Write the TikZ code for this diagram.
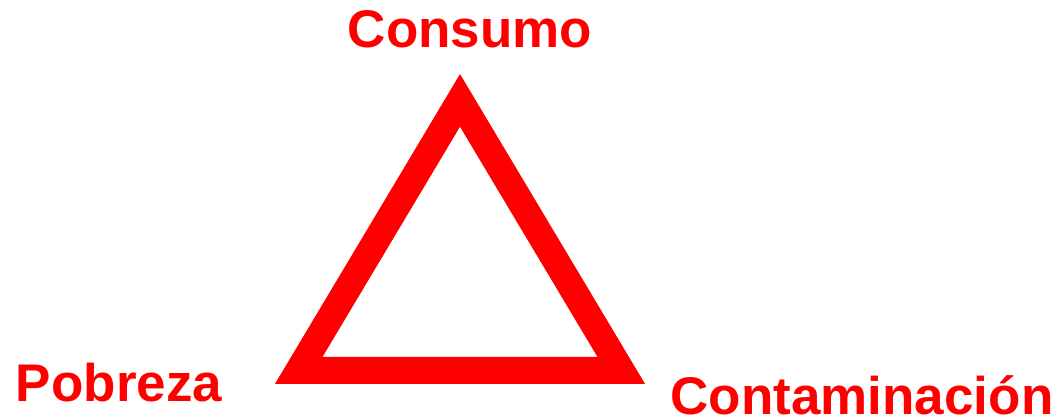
\documentclass[tikz,border=0pt]{standalone}
\usepackage{fontspec}
\setmainfont{Liberation Sans}
\usepackage{xcolor}
\usetikzlibrary{positioning,calc}

\begin{document}
\begin{tikzpicture}[
    x=1pt,
    y=-1pt,
    rotulo/.style={
        text=red,
        inner sep=0pt,
        anchor=base,
        font=\fontsize{53}{60}\selectfont\bfseries
    },
    lado/.style={
        draw=red,
        line width=27pt,
        line join=miter
    }
]

\useasboundingbox (0,0) rectangle (1060,419);

% ============================================================
% VERTICES
% ============================================================

\coordinate (vcons) at (460,100.4);
\coordinate (vpob) at (298.7,370.5);
\coordinate (vcont) at (621.3,370.5);

% ============================================================
% TRIANGULO
% ============================================================

\draw[lado] (vcons) -- (vpob) -- (vcont) -- cycle;

% ============================================================
% ROTULOS
% ============================================================

\node[rotulo] (cons) at (470,48) {Consumo};
\node[rotulo] (pob) at (119,402) {Pobreza};
\node[rotulo] (cont) at (862,414) {Contaminación};

\end{tikzpicture}
\end{document}
